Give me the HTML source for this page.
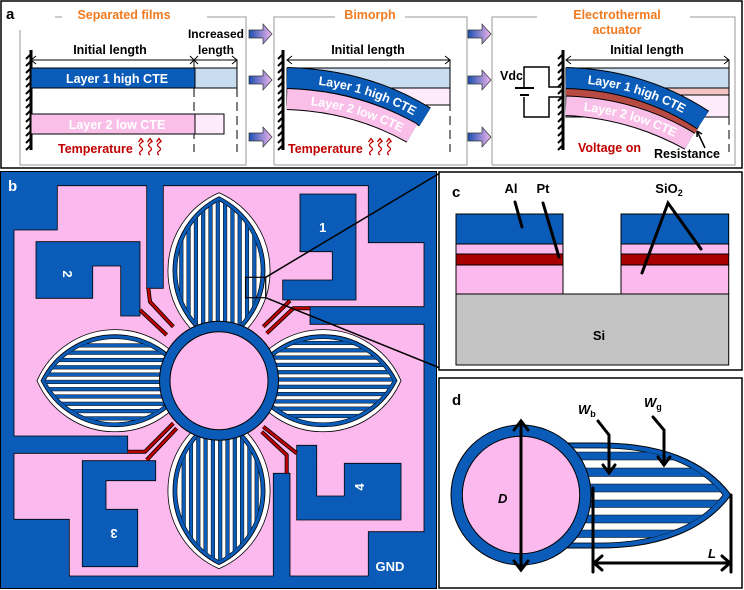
<!DOCTYPE html>
<html><head><meta charset="utf-8"><style>
html,body{margin:0;padding:0;background:#fff}
svg{display:block}
text{font-family:"Liberation Sans",Arial,sans-serif;font-weight:bold}
</style></head><body>
<svg width="744" height="590" viewBox="0 0 744 590" xmlns="http://www.w3.org/2000/svg">
<defs>
<linearGradient id="ag" x1="0" x2="1" y1="0" y2="0"><stop offset="0" stop-color="#1a4fb0"/><stop offset="1" stop-color="#f3b6ee"/></linearGradient>
<path id="l1" d="M-78,0 A85.1,85.1 0 0 1 78,0 A85.1,85.1 0 0 1 -78,0Z"/>
<path id="l2" d="M-74,0 A82.5,82.5 0 0 1 74,0 A82.5,82.5 0 0 1 -74,0Z"/>
<path id="l3" d="M-70,0 A79.3,79.3 0 0 1 70,0 A79.3,79.3 0 0 1 -70,0Z"/>
<clipPath id="lc"><use href="#l3"/></clipPath>
<g id="petal">
<use href="#l1" fill="#fff" stroke="#000" stroke-width="0.8"/>
<use href="#l2" fill="#0b5cb8" stroke="#000" stroke-width="0.8"/>
<use href="#l3" fill="#fff" stroke="#000" stroke-width="0.6"/>
<g clip-path="url(#lc)" fill="#0b5cb8" stroke="#000" stroke-width="0.5">
<rect x="-72" y="-39.5" width="144" height="3.6"/><rect x="-72" y="-32.2" width="144" height="3.6"/>
<rect x="-72" y="-24.9" width="144" height="3.6"/><rect x="-72" y="-17.6" width="144" height="3.6"/>
<rect x="-72" y="-10.3" width="144" height="3.6"/><rect x="-72" y="-3" width="144" height="3.6"/>
<rect x="-72" y="4.3" width="144" height="3.6"/><rect x="-72" y="11.6" width="144" height="3.6"/>
<rect x="-72" y="18.9" width="144" height="3.6"/><rect x="-72" y="26.2" width="144" height="3.6"/>
<rect x="-72" y="33.5" width="144" height="3.6"/>
</g>
</g>
<g id="arr"><path d="M0,-4 H14 V-10 L23,0 L14,10 V4 H0Z" fill="url(#ag)" stroke="#333" stroke-width="0.7"/></g>
<g id="hatch" stroke="#000" stroke-width="2">
<line x1="0" y1="0" x2="0" y2="100" stroke-width="3"/>
<path d="M0,4 l-5,5 M0,11 l-5,5 M0,18 l-5,5 M0,25 l-5,5 M0,32 l-5,5 M0,39 l-5,5 M0,46 l-5,5 M0,53 l-5,5 M0,60 l-5,5 M0,67 l-5,5 M0,74 l-5,5 M0,81 l-5,5 M0,88 l-5,5 M0,95 l-5,5"/>
</g>
<g id="wave" stroke="#c00000" stroke-width="1.3" fill="none">
<path d="M0,5 q-3,-2 0,-4 q3,-2 0,-4 q-3,-2 0,-4 q3,-2 0,-4 M-2.5,-8 l2.5,-3.5 l2.5,3.5"/>
</g>
<clipPath id="dc"><path d="M723,495 C700,465 658,448 600,448 L540,448 L540,543 L600,543 C658,543 700,525 723,495Z"/></clipPath>
</defs>

<!-- Panel a -->
<rect x="1" y="1" width="741" height="167" fill="#fff" stroke="#000" stroke-width="1.5"/>
<text x="6" y="19" font-size="15">a</text>
<g stroke="#999" stroke-width="1" fill="none">
<path d="M55,17 H62 M207,17 H246 V165 H20 V30"/>
<path d="M274,165 V17 H335 M405,17 H467 V165 H274"/>
<path d="M492,165 V17 H537 M690,17 H735 V165 H492"/>
</g>
<text x="124" y="19" font-size="12.5" fill="#f07a20" text-anchor="middle">Separated films</text>
<text x="370" y="19" font-size="12.5" fill="#f07a20" text-anchor="middle">Bimorph</text>
<text x="617" y="19" font-size="12.5" fill="#f07a20" text-anchor="middle">Electrothermal</text>
<text x="617" y="34" font-size="12.5" fill="#f07a20" text-anchor="middle">actuator</text>
<use href="#arr" x="249" y="34"/><use href="#arr" x="249" y="80"/><use href="#arr" x="249" y="137"/>
<use href="#arr" x="468" y="34"/><use href="#arr" x="468" y="80"/><use href="#arr" x="468" y="137"/>

<!-- sub1 -->
<use href="#hatch" x="31" y="50"/>
<text x="110" y="54" font-size="12.5" text-anchor="middle">Initial length</text>
<text x="216" y="38" font-size="12" text-anchor="middle">Increased</text>
<text x="216" y="54" font-size="12" text-anchor="middle">length</text>
<g stroke="#000" stroke-width="1" fill="none">
<path d="M31,60 H237 M36,56 l-5,4 l5,4 M232,56 l5,4 l-5,4 M190,56 l8,8 M198,56 l-8,8"/>
<path d="M194,60 V152 M237,60 V152" stroke-dasharray="9,5"/>
</g>
<rect x="31" y="68" width="164" height="20" fill="#0b5cb8" stroke="#000"/>
<rect x="195" y="68" width="42" height="20" fill="#c8dcf0" stroke="#000"/>
<rect x="31" y="114" width="164" height="20" fill="#f9bfe9" stroke="#000"/>
<rect x="195" y="114" width="29" height="20" fill="#fdeafa" stroke="#000"/>
<text x="117" y="83" font-size="12.5" fill="#fff" text-anchor="middle">Layer 1 high CTE</text>
<text x="117" y="129" font-size="12.5" fill="#fff" text-anchor="middle">Layer 2 low CTE</text>
<text x="58" y="153" font-size="12.5" fill="#c00000">Temperature</text>
<use href="#wave" x="141" y="150"/><use href="#wave" x="150" y="150"/><use href="#wave" x="159" y="150"/>

<!-- sub2 -->
<use href="#hatch" x="283" y="50"/>
<text x="368" y="54" font-size="12.5" text-anchor="middle">Initial length</text>
<g stroke="#000" stroke-width="1" fill="none">
<path d="M287,60 H450 M292,56 l-5,4 l5,4 M445,56 l5,4 l-5,4"/>
<path d="M450,60 V152" stroke-dasharray="9,5"/>
</g>
<rect x="287" y="68" width="163" height="20" fill="#c8dcf0" stroke="#000"/>
<rect x="287" y="88" width="163" height="17" fill="#fdeafa" stroke="#000"/>
<path id="c2b" d="M287,78 Q365,80 425,117" fill="none" stroke="#000" stroke-width="22"/>
<path d="M287,78 Q365,80 425,117" fill="none" stroke="#0b5cb8" stroke-width="20"/>
<path id="c2p" d="M287,99 Q355,101 412,133" fill="none" stroke="#000" stroke-width="22"/>
<path d="M287,99 Q355,101 412,133" fill="none" stroke="#f9bfe9" stroke-width="20"/>
<text font-size="12.5" fill="#fff" dy="4.5"><textPath href="#c2b" startOffset="32">Layer 1 high CTE</textPath></text>
<text font-size="12.5" fill="#fff" dy="4.5"><textPath href="#c2p" startOffset="24">Layer 2 low CTE</textPath></text>
<text x="288" y="153" font-size="12.5" fill="#c00000">Temperature</text>
<use href="#wave" x="371" y="150"/><use href="#wave" x="380" y="150"/><use href="#wave" x="389" y="150"/>

<!-- sub3 -->
<use href="#hatch" x="563" y="50"/>
<text x="647" y="54" font-size="12.5" text-anchor="middle">Initial length</text>
<g stroke="#000" stroke-width="1" fill="none">
<path d="M566,60 H729 M571,56 l-5,4 l5,4 M724,56 l5,4 l-5,4"/>
<path d="M729,60 V152" stroke-dasharray="9,5"/>
</g>
<rect x="566" y="68" width="163" height="20" fill="#c8dcf0" stroke="#000"/>
<rect x="566" y="88" width="163" height="7" fill="#f2c4c4" stroke="#000"/>
<rect x="566" y="95" width="163" height="22" fill="#fdeafa" stroke="#000"/>
<path d="M566,105 Q632,108 690,140" fill="none" stroke="#000" stroke-width="22"/>
<path id="c3p" d="M566,105 Q632,108 690,140" fill="none" stroke="#f9bfe9" stroke-width="20"/>
<path d="M566,92 Q638,94 697,130" fill="none" stroke="#000" stroke-width="9"/>
<path d="M566,92 Q638,94 697,130" fill="none" stroke="#b84a44" stroke-width="7"/>
<path d="M566,78 Q642,80 703,120" fill="none" stroke="#000" stroke-width="22"/>
<path id="c3b" d="M566,78 Q642,80 703,120" fill="none" stroke="#0b5cb8" stroke-width="20"/>
<text font-size="12.5" fill="#fff" dy="4.5"><textPath href="#c3b" startOffset="22">Layer 1 high CTE</textPath></text>
<text font-size="12.5" fill="#fff" dy="4.5"><textPath href="#c3p" startOffset="18">Layer 2 low CTE</textPath></text>
<g stroke="#000" stroke-width="1.5" fill="none">
<path d="M561,87 H549 V67 H524 V88 M524,97 V117 H549 V97 H561"/>
<path d="M515,88 H534 M520,95 H529" stroke-width="2"/>
<path d="M697,131 L705,148 M697,131 l0,6 M697,131 l5,3"/>
</g>
<text x="500" y="80" font-size="12.5">Vdc</text>
<text x="578" y="152" font-size="12.5" fill="#c00000">Voltage on</text>
<text x="654" y="158" font-size="12.5">Resistance</text>

<!-- Panel b -->
<rect x="0.5" y="171.5" width="436" height="417" fill="#0b5cb8" stroke="#000"/>
<path d="M57.3,185.7 H146.7 V288.3 H163.3 V185.7 H368.3 V242.7 H424 V306.7 H310 V324.3 H424 V531.7 H368.3 V576 H290 V473.3 H273.3 V576 H69.3 V519.3 H14 V453.3 H127.7 V436 H14 V230 H57.3Z" fill="#fbb9ed" stroke="#000" stroke-width="0.8"/>
<g fill="#0b5cb8" stroke="#000" stroke-width="0.8">
<path d="M300,194 H356 V300 H282.7 V280 H332.3 V251.7 H300Z"/>
<path d="M36,241.7 H140 V316 H120.7 V266 H92.7 V298.3 H36Z"/>
<path d="M82.3,460.7 H155.7 V480.7 H106 V509.3 H137.7 V566.7 H82.3Z"/>
<path d="M296.7,445.3 H316.7 V496 H344.3 V463.3 H401 V520 H296.7Z"/>
</g>
<text x="8" y="191" font-size="15" fill="#fff">b</text>
<text x="322.7" y="232" font-size="13" fill="#fff" text-anchor="middle">1</text>
<text font-size="13" fill="#fff" text-anchor="middle" transform="translate(63,274) rotate(90)">2</text>
<text font-size="13" fill="#fff" text-anchor="middle" transform="translate(114,529) rotate(180)">3</text>
<text font-size="13" fill="#fff" text-anchor="middle" transform="translate(364,487) rotate(-90)">4</text>
<text x="390" y="571" font-size="13" fill="#fff" text-anchor="middle">GND</text>
<g transform="translate(219,380.7)">
<use href="#petal" transform="rotate(-90) translate(110,0)"/>
<use href="#petal" transform="rotate(90) translate(110,0)"/>
<use href="#petal" transform="translate(104,0)"/>
<use href="#petal" transform="rotate(180) translate(104,0)"/>
</g>
<g fill="none" stroke-linejoin="round">
<g stroke="#000" stroke-width="4">
<path d="M148.3,288 L150,301.7 L173.3,326.7 M140,310 L166.7,335 M290,300.7 L263.3,326.7 M310,308.3 L293.3,308.3 L266.7,333.3 M127.7,451.7 L145,451.7 L173.3,423.3 M146.7,460 L176.7,428.3 M296.7,453.3 L263.3,426.7 M286.7,473.3 L286.7,455 L261.7,431.7"/>
</g>
<g stroke="#c00000" stroke-width="2.4">
<path d="M148.3,288 L150,301.7 L173.3,326.7 M140,310 L166.7,335 M290,300.7 L263.3,326.7 M310,308.3 L293.3,308.3 L266.7,333.3 M127.7,451.7 L145,451.7 L173.3,423.3 M146.7,460 L176.7,428.3 M296.7,453.3 L263.3,426.7 M286.7,473.3 L286.7,455 L261.7,431.7"/>
</g>
</g>
<circle cx="219" cy="380.7" r="59.5" fill="#0b5cb8" stroke="#000"/>
<circle cx="219" cy="380.7" r="49" fill="#fbb9ed" stroke="#000"/>
<rect x="245.7" y="277.3" width="20" height="20.4" fill="none" stroke="#000" stroke-width="1.2"/>
<path d="M265.7,277.3 L440,173 M265.7,297.7 L440,368" stroke="#000" stroke-width="1.5"/>

<!-- Panel c -->
<rect x="439" y="172" width="303" height="198" fill="#fff" stroke="#000" stroke-width="1.5"/>
<text x="452" y="197" font-size="15">c</text>
<rect x="456" y="294" width="272.7" height="71" fill="#c3c3c3" stroke="#000"/>
<g stroke="#000">
<rect x="456" y="214" width="107" height="30" fill="#0b5cb8"/>
<rect x="456" y="244" width="107" height="10" fill="#fbb9ed"/>
<rect x="456" y="254" width="107" height="11" fill="#a80000"/>
<rect x="456" y="265" width="107" height="29" fill="#fbb9ed"/>
<rect x="621" y="214" width="107.7" height="30" fill="#0b5cb8"/>
<rect x="621" y="244" width="107.7" height="10" fill="#fbb9ed"/>
<rect x="621" y="254" width="107.7" height="11" fill="#a80000"/>
<rect x="621" y="265" width="107.7" height="29" fill="#fbb9ed"/>
</g>
<text x="511" y="193" font-size="13" text-anchor="middle">Al</text>
<text x="543" y="193" font-size="13" text-anchor="middle">Pt</text>
<text x="669" y="193" font-size="13" text-anchor="middle">SiO<tspan font-size="9" dy="3">2</tspan></text>
<text x="599" y="340" font-size="13" text-anchor="middle">Si</text>
<g stroke="#000" stroke-width="3" stroke-linecap="round" fill="none">
<path d="M515,202 L522,227 M543,203 L559,257 M642,273 L668,203 L701,249"/>
</g>

<!-- Panel d -->
<rect x="439" y="378" width="303" height="210" fill="#fff" stroke="#000" stroke-width="1.5"/>
<text x="452" y="405" font-size="15">d</text>
<path d="M731,495 C705,460 660,443 600,443 L540,443 L540,548 L600,548 C660,548 705,530 731,495Z" fill="#0b5cb8" stroke="#000"/>
<path d="M723,495 C700,465 658,448 600,448 L540,448 L540,543 L600,543 C658,543 700,525 723,495Z" fill="#fff" stroke="#000" stroke-width="0.7"/>
<g clip-path="url(#dc)" fill="#0b5cb8" stroke="#000" stroke-width="0.5">
<rect x="540" y="452" width="200" height="8"/><rect x="540" y="468" width="200" height="8.5"/>
<rect x="540" y="484" width="200" height="8"/><rect x="540" y="500" width="200" height="7.5"/>
<rect x="540" y="515" width="200" height="8"/><rect x="540" y="530" width="200" height="7.5"/>
</g>
<circle cx="521" cy="495" r="70" fill="#0b5cb8" stroke="#000"/>
<circle cx="521" cy="495" r="58.7" fill="#fbb9ed" stroke="#000"/>
<g stroke="#000" stroke-width="3" fill="none" stroke-linecap="round">
<path d="M521,422 V569 M514,430 L521,421 L528,430 M514,561 L521,570 L528,561"/>
<path d="M593,488 V572 M731,495 V572 M593,563 H731 M602,556 L594,563 L602,570 M722,556 L730,563 L722,570"/>
<path d="M598,421 L609,435 V472 M603,465 L609,473 L615,465"/>
<path d="M653,417 L664,430 V464 M658,457 L664,465 L670,457"/>
</g>
<text x="498" y="503" font-size="13" font-style="italic">D</text>
<text x="708" y="558" font-size="13" font-style="italic">L</text>
<text x="578" y="414" font-size="13" font-style="italic">W<tspan font-size="9" font-style="normal" dy="3">b</tspan></text>
<text x="644" y="407" font-size="13" font-style="italic">W<tspan font-size="9" font-style="normal" dy="3">g</tspan></text>
</svg>
</body></html>
